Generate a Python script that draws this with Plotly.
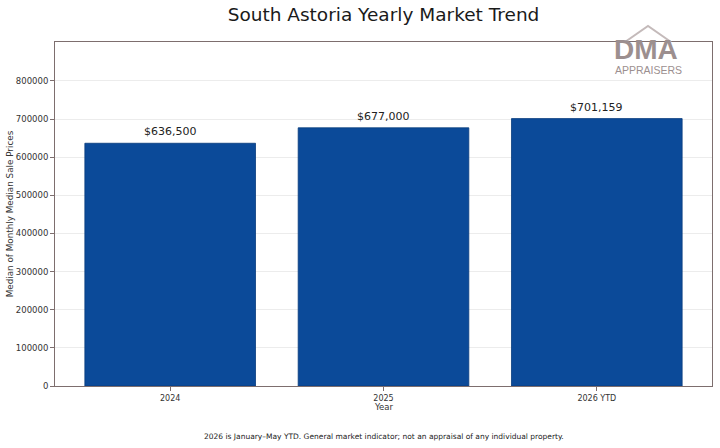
import plotly.graph_objects as go

years = ["2024", "2025", "2026 YTD"]
median_prices = [636500, 677000, 701159]
y_ticks = [0, 100000, 200000, 300000, 400000, 500000, 600000, 700000, 800000]

frame = "#7d6e6e"
font = "DejaVu Sans"
xs = list(range(len(years)))

fig = go.Figure(
    go.Bar(
        x=xs,
        y=median_prices,
        width=0.8,
        marker=dict(color="#0b4a99", line=dict(color="#083b7c", width=0.8)),
        hoverinfo="x+y",
    )
)

# value labels above bars
for xi, v in zip(xs, median_prices):
    fig.add_annotation(
        x=xi, y=v, text=f"${v:,.0f}", yanchor="bottom", yshift=3,
        showarrow=False, font=dict(family=font, size=11, color="#222222"),
    )

fig.update_layout(
    width=720,
    height=448,
    margin=dict(l=55, r=8, t=42, b=62),
    paper_bgcolor="white",
    plot_bgcolor="white",
    showlegend=False,
    font=dict(family=font, color="#333333"),
    title=dict(
        text="South Astoria Yearly Market Trend",
        xref="paper", x=0.5, xanchor="center",
        yref="container", y=0.9675, yanchor="middle",
        font=dict(family=font, size=18.5, color="#1a1a1a"),
    ),
)

fig.update_xaxes(
    range=[-0.54, 2.54],
    tickvals=xs,
    ticktext=years,
    showgrid=False,
    zeroline=False,
    showline=True, mirror=True, linecolor=frame, linewidth=1,
    ticks="outside", ticklen=4, tickcolor=frame,
    tickfont=dict(size=8, color="#333333"),
    automargin=False,
)

fig.update_yaxes(
    range=[0, 902000],
    tickvals=y_ticks,
    ticktext=[str(v) for v in y_ticks],
    showgrid=True, gridcolor="rgba(150,150,150,0.18)", gridwidth=1,
    zeroline=False,
    showline=True, mirror=True, linecolor=frame, linewidth=1,
    ticks="outside", ticklen=4, tickcolor=frame,
    tickfont=dict(size=8.5, color="#333333"),
    layer="above traces",
    automargin=False,
)

# axis titles
fig.add_annotation(
    text="Year", xref="paper", yref="paper", x=0.5, y=-0.06,
    xanchor="center", yanchor="middle", showarrow=False,
    font=dict(family=font, size=8.5, color="#333333"),
)
fig.add_annotation(
    text="Median of Monthly Median Sale Prices", xref="paper", yref="paper",
    x=-0.068, y=0.5, xanchor="center", yanchor="middle", textangle=-90,
    showarrow=False, font=dict(family=font, size=8.8, color="#333333"),
)

# footnote
fig.add_annotation(
    text="2026 is January–May YTD. General market indicator; not an appraisal of any individual property.",
    xref="paper", yref="paper", x=0.5, y=-0.148, xanchor="center", yanchor="middle",
    showarrow=False, font=dict(family=font, size=7.5, color="#222222"),
)

# watermark logo
logo = "#9c8f8f"
fig.add_shape(
    type="path", xref="paper", yref="paper",
    path="M 0.8676 1.0 L 0.9026 1.0465 L 0.9376 1.0",
    line=dict(color="#c4baba", width=2),
)
fig.add_annotation(
    text="<b>DMA</b>", xref="paper", yref="paper", x=0.900, y=0.978,
    xanchor="center", yanchor="middle", showarrow=False,
    font=dict(family="Liberation Sans", size=28, color=logo),
)
fig.add_annotation(
    text="APPRAISERS", xref="paper", yref="paper", x=0.904, y=0.918,
    xanchor="center", yanchor="middle", showarrow=False,
    font=dict(family="Liberation Sans", size=10.5, color=logo),
)

# drop the default page margin so the figure sits at the window's corner
fig.write_html(
    "out.html",
    config={"displayModeBar": False},
    post_script="document.body.style.margin='0';",
)
